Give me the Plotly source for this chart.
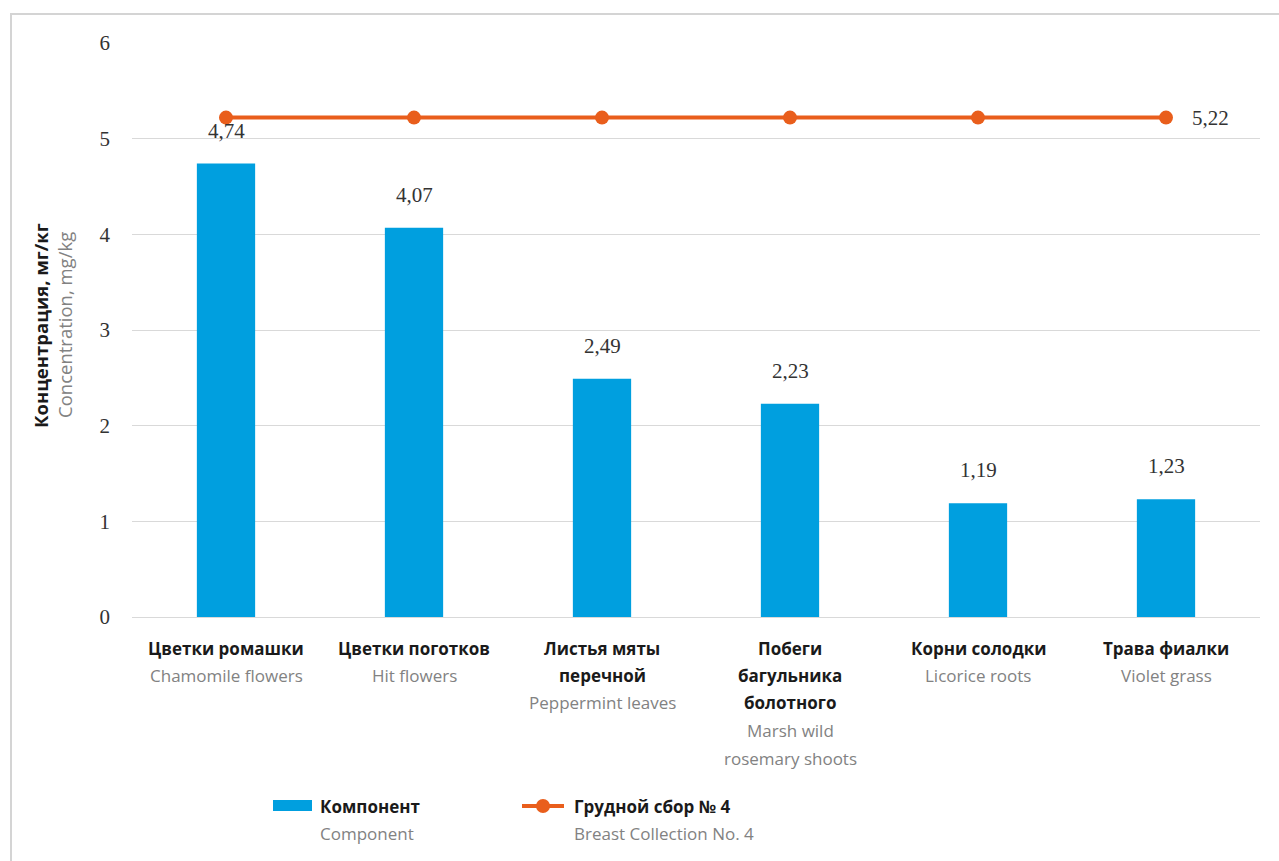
import plotly.graph_objects as go

# Categories: Russian name (bold, black) and English translation (grey)
cat_ru = ["Цветки ромашки", "Цветки поготков", "Листья мяты<br>перечной",
          "Побеги<br>багульника<br>болотного", "Корни солодки", "Трава фиалки"]
cat_en = ["Chamomile flowers", "Hit flowers", "Peppermint leaves",
          "Marsh wild<br>rosemary shoots", "Licorice roots", "Violet grass"]

# Component concentration, mg/kg
component = [4.74, 4.07, 2.49, 2.23, 1.19, 1.23]
# Breast collection No. 4 concentration, mg/kg (same level for all)
collection = [5.22, 5.22, 5.22, 5.22, 5.22, 5.22]

y_ticks = [0, 1, 2, 3, 4, 5, 6]

BLUE = "#009FDF"
ORANGE = "#E95E1C"
DARK = "#1a1a1a"
GREY = "#828282"
SERIF = "Liberation Serif"
SANS = "Open Sans"

x = list(range(len(cat_ru)))

def fmt(v):
    return f"{v:.2f}".replace(".", ",")

fig = go.Figure()
fig.add_bar(x=x, y=component, marker_color=BLUE, marker_line_width=0,
            showlegend=False, hoverinfo="skip")
fig.add_scatter(x=x, y=collection, mode="lines+markers",
                line=dict(color=ORANGE, width=4),
                marker=dict(color=ORANGE, size=14),
                showlegend=False, hoverinfo="skip")

ann = []
# value labels above bars
for xi, v in zip(x, component):
    ann.append(dict(x=xi, y=v, xref="x", yref="y", text=fmt(v), showarrow=False,
                    yanchor="bottom", yshift=19,
                    font=dict(family=SERIF, size=21, color="#333333")))
# value label of the line, right of the last point
ann.append(dict(x=x[-1], y=collection[-1], xref="x", yref="y", text=fmt(collection[-1]),
                showarrow=False, xanchor="left", xshift=24,
                font=dict(family=SERIF, size=21, color="#333333")))

# category labels, one annotation per line
PLOT_TOP, PLOT_BOT = 43, 617
H = PLOT_BOT - PLOT_TOP

def py(pix):
    return (PLOT_BOT - pix) / H

LINE = 27.5
for xi, ru, en in zip(x, cat_ru, cat_en):
    lines = [(t, True) for t in ru.split("<br>")] + [(t, False) for t in en.split("<br>")]
    for i, (t, bold) in enumerate(lines):
        ann.append(dict(x=xi, y=py(648 + LINE * i), xref="x", yref="paper",
                        text=f"<b>{t}</b>" if bold else t, showarrow=False,
                        yanchor="middle", xanchor="center",
                        font=dict(family=SANS, size=17, color=DARK if bold else GREY)))

# y axis title (two rotated lines)
PLOT_L, PLOT_R = 132, 1260
W = PLOT_R - PLOT_L

def px_(pix):
    return (pix - PLOT_L) / W

ann.append(dict(x=px_(40), y=py(325), xref="paper", yref="paper", textangle=-90,
                xanchor="center", yanchor="middle",
                text="<b>Концентрация, мг/кг</b>", showarrow=False,
                font=dict(family=SANS, size=18.5, color=DARK)))
ann.append(dict(x=px_(64), y=py(325), xref="paper", yref="paper", textangle=-90,
                xanchor="center", yanchor="middle",
                text="Concentration, mg/kg", showarrow=False,
                font=dict(family=SANS, size=18.5, color=GREY)))

# legend
legend_items = [("Компонент", "Component", 318),
                ("Грудной сбор № 4", "Breast Collection No. 4", 572)]
for ru, en, lx in legend_items:
    ann.append(dict(x=px_(lx), y=py(806), xref="paper", yref="paper", text=f"<b>{ru}</b>",
                    showarrow=False, xanchor="left", yanchor="middle",
                    font=dict(family=SANS, size=17, color=DARK)))
    ann.append(dict(x=px_(lx), y=py(834), xref="paper", yref="paper", text=en,
                    showarrow=False, xanchor="left", yanchor="middle",
                    font=dict(family=SANS, size=17, color=GREY)))

shapes = [
    # legend symbols
    dict(type="rect", xref="paper", yref="paper", x0=px_(273), x1=px_(312),
         y0=py(811), y1=py(800), fillcolor=BLUE, line_width=0),
    dict(type="line", xref="paper", yref="paper", x0=px_(522), x1=px_(564),
         y0=py(806), y1=py(806), line=dict(color=ORANGE, width=4)),
    dict(type="circle", xref="paper", yref="paper", x0=px_(536), x1=px_(550),
         y0=py(813), y1=py(799), fillcolor=ORANGE, line_width=0),
    # outer frame
    dict(type="path", xref="paper", yref="paper",
         path=f"M {px_(11)} {py(870)} L {px_(11)} {py(14)} L {px_(1290)} {py(14)}",
         line=dict(color="#d4d4d4", width=2)),
]

fig.update_layout(
    width=1279, height=861,
    margin=dict(l=PLOT_L, r=1279 - PLOT_R, t=PLOT_TOP, b=861 - PLOT_BOT),
    paper_bgcolor="white", plot_bgcolor="white",
    bargap=0.69,
    annotations=ann, shapes=shapes,
    xaxis=dict(range=[-0.5, len(x) - 0.5], showticklabels=False, showgrid=False,
               zeroline=False, showline=False, fixedrange=True),
    yaxis=dict(range=[0, 6], tickvals=y_ticks, ticktext=[str(t) for t in y_ticks],
               showgrid=True, gridcolor="#d9d9d9", gridwidth=1,
               zeroline=True, zerolinecolor="#d9d9d9", zerolinewidth=1,
               showline=False, ticks="", ticklabelstandoff=21,
               tickfont=dict(family=SERIF, size=21, color="#333333")),
)

fig.write_html("out.html")
